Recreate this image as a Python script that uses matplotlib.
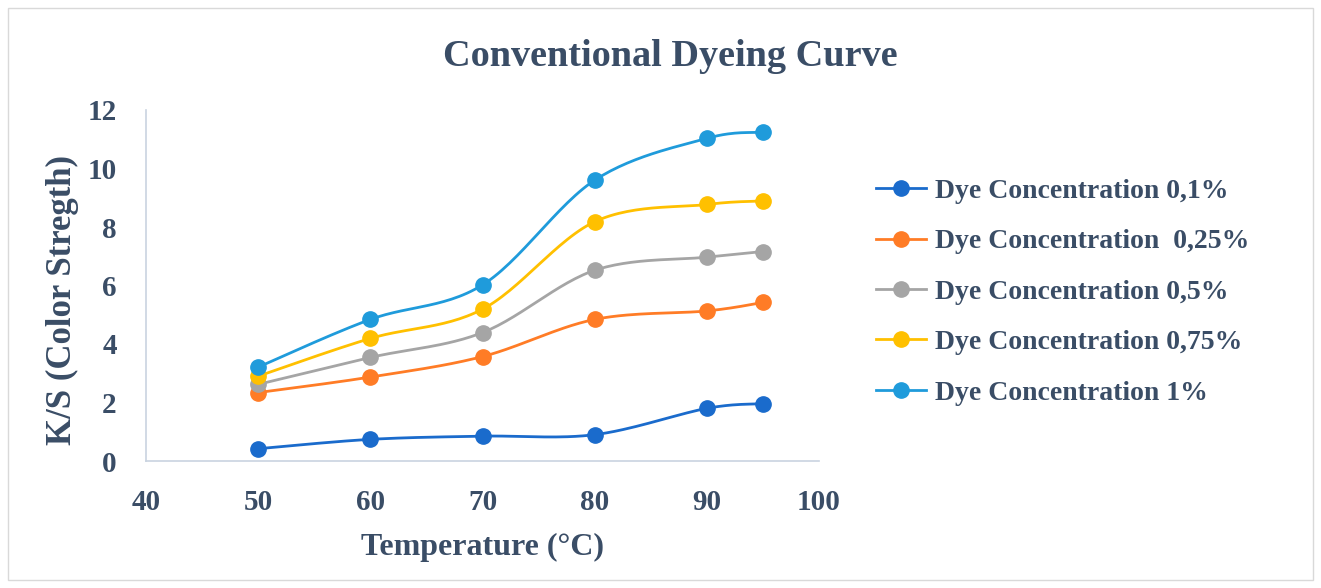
import matplotlib.pyplot as plt
import matplotlib.patches as patches
import numpy as np

plt.rcParams['font.family'] = ['Liberation Serif', 'DejaVu Serif']
plt.rcParams['font.weight'] = 'bold'

temperature = [50, 60, 70, 80, 90, 95]
ks_01 = [0.42, 0.74, 0.85, 0.90, 1.80, 1.96]
ks_025 = [2.34, 2.87, 3.57, 4.84, 5.13, 5.42]
ks_05 = [2.62, 3.54, 4.39, 6.52, 6.97, 7.16]
ks_075 = [2.90, 4.19, 5.19, 8.18, 8.77, 8.89]
ks_1 = [3.21, 4.84, 6.02, 9.60, 11.03, 11.24]

labels = ["Dye Concentration 0,1%", "Dye Concentration  0,25%",
          "Dye Concentration 0,5%", "Dye Concentration 0,75%",
          "Dye Concentration 1%"]
colors = ["#1A6BCC", "#FF7C26", "#A5A5A5", "#FFC000", "#1F9BDB"]
text_col = "#3A4D66"


def smooth(xs, ys, n=30):
    # Catmull-Rom style bezier through the points (like a spreadsheet "smoothed line")
    p = np.column_stack([xs, ys]).astype(float)
    p = np.vstack([p[0], p, p[-1]])
    out = []
    for i in range(1, len(p) - 2):
        p0, p1, p2, p3 = p[i - 1], p[i], p[i + 1], p[i + 2]
        c1 = p1 + (p2 - p0) / 6
        c2 = p2 - (p3 - p1) / 6
        t = np.linspace(0, 1, n)[:, None]
        seg = ((1 - t) ** 3) * p1 + 3 * ((1 - t) ** 2) * t * c1 + 3 * (1 - t) * t ** 2 * c2 + t ** 3 * p2
        out.append(seg if i == 1 else seg[1:])
    seg = np.vstack(out)
    return seg[:, 0], seg[:, 1]


fig = plt.figure(figsize=(13.21, 5.88), dpi=100)
ax = fig.add_axes([146 / 1321, 1 - 461 / 588, (819 - 146) / 1321, (461 - 110) / 588])

for ys, lab, c in zip([ks_01, ks_025, ks_05, ks_075, ks_1], labels, colors):
    sx, sy = smooth(temperature, ys)
    ax.plot(sx, sy, color=c, lw=2, zorder=2)
    ax.plot(temperature, ys, 'o', color=c, ms=11, zorder=3)
    ax.plot([], [], '-o', color=c, lw=2, ms=11, label=lab)

ax.set_xlim(40, 100)
ax.set_ylim(0, 12)
ax.set_xticks(range(40, 101, 10))
ax.set_yticks(range(0, 13, 2))
for s in ["top", "right"]:
    ax.spines[s].set_visible(False)
for s in ["left", "bottom"]:
    ax.spines[s].set_color("#C9D3E0")
    ax.spines[s].set_linewidth(1.2)
ax.tick_params(length=0, labelsize=21, labelcolor=text_col)
ax.tick_params(axis='y', pad=21)
ax.tick_params(axis='x', pad=20)
ax.set_xlabel("Temperature (°C)", fontsize=23, color=text_col, fontweight='bold', labelpad=12)
ax.set_ylabel("K/S (Color Stregth)", fontsize=25, color=text_col, fontweight='bold')
ax.yaxis.set_label_coords(-0.099, 0.458)

fig.text(670 / 1321, 1 - 56 / 588, "Conventional Dyeing Curve", ha='center', va='center',
         fontsize=27.5, fontweight='bold', color=text_col)

fig.legend(loc='center left', bbox_to_anchor=(862 / 1321, 1 - 292 / 588), frameon=False,
           fontsize=20, labelcolor=text_col, handlelength=1.8, handletextpad=0.32,
           labelspacing=0.9, borderpad=0)

fig.patches.append(patches.Rectangle((8 / 1321, 8 / 588), 1 - 16 / 1321, 1 - 16 / 588,
                                     transform=fig.transFigure, fill=False,
                                     edgecolor="#D9D9D9", lw=1))

fig.savefig("out.png", dpi=100)
